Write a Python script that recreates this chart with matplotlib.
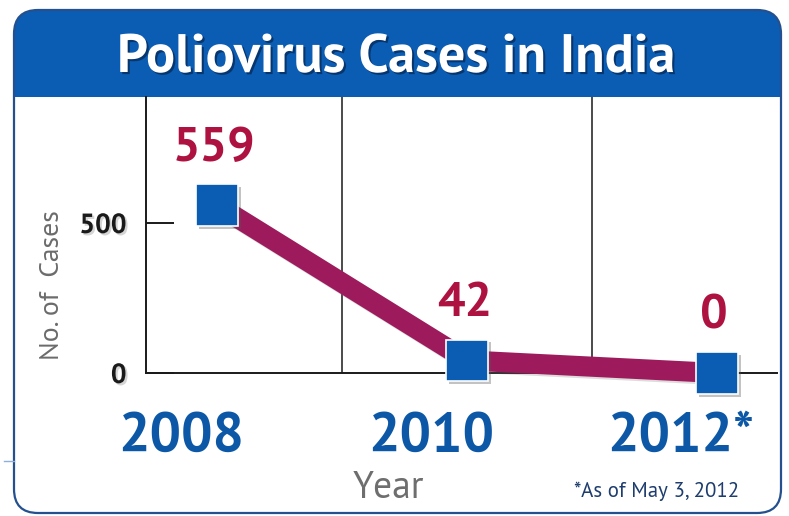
import matplotlib
matplotlib.use("Agg")
import matplotlib.pyplot as plt
import matplotlib.patheffects as pe
from matplotlib.patches import FancyBboxPatch, Rectangle

# polio cases by year
years = [2008, 2010, 2012]
cases = [559, 42, 0]
year_labels = ["2008", "2010", "2012*"]
y_ticks = [0, 500]
grid_years = [2009, 2011]

BLUE = "#0b5cb3"
PLUM = "#9d1b5c"
RED = "#ad1240"
W, H = 789, 516

plt.rcParams["font.family"] = ["PT Sans", "DejaVu Sans"]

fig = plt.figure(figsize=(W / 100, H / 100), dpi=100)

# frame drawn in pixel units on a background axes
bg = fig.add_axes([0, 0, 1, 1])
bg.set_xlim(0, W)
bg.set_ylim(H, 0)
bg.axis("off")

panel = FancyBboxPatch((14, 10), 767, 503, boxstyle="round,pad=0,rounding_size=24",
                       facecolor="white", edgecolor="none")
bg.add_patch(panel)
header = Rectangle((0, 0), W, 97, facecolor=BLUE, edgecolor="none")
bg.add_patch(header)
header.set_clip_path(panel)
bg.add_patch(FancyBboxPatch((14, 10), 767, 503, boxstyle="round,pad=0,rounding_size=24",
                            facecolor="none", edgecolor="#24508f", lw=1.6))
bg.plot([4, 14], [461, 461], color="#8fb0dd", lw=1)

bg.text(396, 72, "Poliovirus Cases in India", color="white", fontsize=39,
        fontweight="bold", ha="center", va="baseline",
        path_effects=[pe.withSimplePatchShadow(offset=(1.5, -1.5), shadow_rgbFace="#062c5c", alpha=0.8)])

# chart
ax = fig.add_axes([146 / W, 1 - 373 / H, (777 - 146) / W, (373 - 97) / H])
ax.patch.set_alpha(0)
ax.set_xlim(2007.43, 2012.48)
ax.set_ylim(0, 920)
for s in ["top", "right"]:
    ax.spines[s].set_visible(False)
for s in ["left", "bottom"]:
    ax.spines[s].set_color("#1a1a1a")
    ax.spines[s].set_linewidth(1.4)

ax.set_xticks([])
ax.set_xticks(grid_years, minor=True)
ax.tick_params(axis="x", which="minor", length=0)
ax.grid(which="minor", axis="x", color="#1a1a1a", lw=1.1)

ax.set_yticks(y_ticks)
ax.tick_params(axis="y", direction="in", length=20, width=1.4, color="#1a1a1a",
               pad=14, labelsize=20)
for lab in ax.get_yticklabels():
    lab.set_fontweight("bold")
    lab.set_color("#1a1a1a")
    lab.set_path_effects([pe.withSimplePatchShadow(offset=(1.5, -1.5), shadow_rgbFace="#888888", alpha=0.35)])

ax.set_ylabel("No. of  Cases", fontsize=20, color="#6b6b6b")
ax.yaxis.set_label_coords(-0.13, 0.32)

ax.plot(years, cases, color=PLUM, lw=14.5, solid_capstyle="butt", zorder=3,
        path_effects=[pe.SimpleLineShadow(offset=(1.5, -1.5), shadow_color="#777777", alpha=0.25), pe.Normal()],
        clip_on=False)
ax.plot(years, cases, ls="none", marker="s", ms=30, mfc=BLUE, mec="white", mew=1.2,
        zorder=4, clip_on=False,
        path_effects=[pe.withSimplePatchShadow(offset=(2, -2), shadow_rgbFace="#555555", alpha=0.35)])

for x, v in zip(years, cases):
    ax.annotate(str(v), (x, v), xytext=(-2, 25), textcoords="offset points",
                ha="center", va="bottom", fontsize=35, fontweight="bold",
                color=RED, annotation_clip=False)

for x, lab in zip(years, year_labels):
    ax.annotate(lab, (x, 0), xytext=(-26, -57), textcoords="offset points",
                ha="center", va="baseline", fontsize=40, fontweight="bold",
                color="#0d58a6", annotation_clip=False)

fig.text(388 / W, 1 - 498 / H, "Year", fontsize=27, color="#6e6e6e",
         ha="center", va="baseline")
fig.text(657 / W, 1 - 497 / H, "*As of May 3, 2012", fontsize=15, color="#1e3d6e",
         ha="center", va="baseline")

fig.savefig("out.png", dpi=100)
